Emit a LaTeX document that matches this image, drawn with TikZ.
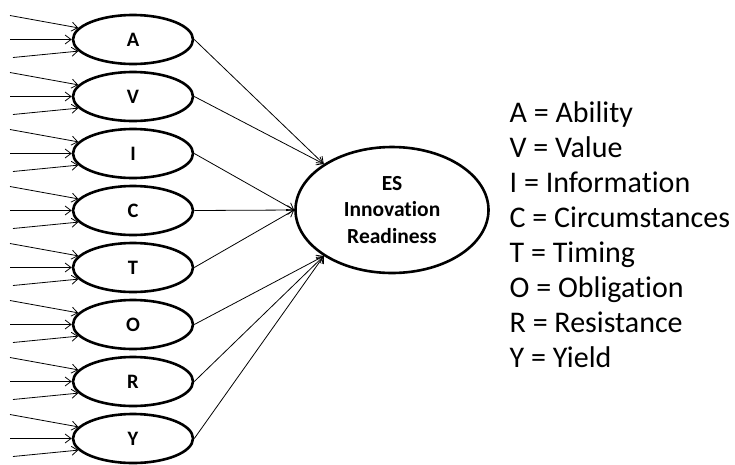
\documentclass[tikz,border=0pt]{standalone}
\usepackage{fontspec}
\setmainfont{Carlito}[Ligatures={NoCommon}]
\usetikzlibrary{arrows.meta,shapes.geometric}
\begin{document}
\begin{tikzpicture}[x=1pt,y=-1pt,
  conn/.style={line width=0.8pt,-{Straight Barb[length=6pt,width=9pt]}},
  smallell/.style={ellipse,draw,line width=2.6pt,minimum width=120pt,minimum height=49pt,inner sep=0pt,
    font=\fontsize{20.5}{25}\selectfont\bfseries},
  bigell/.style={ellipse,draw,line width=2.6pt,minimum width=193pt,minimum height=126pt,inner sep=0pt,
    align=center,font=\fontsize{21.5}{26.5}\selectfont\bfseries},
  legendtxt/.style={anchor=base west,inner sep=0pt,font=\fontsize{30}{35}\selectfont}]
\useasboundingbox (0,0) rectangle (735,464);
\node[bigell] (es) at (392,210) {ES\\Innovation\\Readiness};
\foreach \n/\l/\ang [count=\k from 0] in {a/A/146,v/V/146,i/I/180,c/C/180,t/T/180,o/O/214,r/R/214,y/Y/214} {
  \pgfmathsetmacro\cy{39.5+57*\k}
  \node[smallell] (\n) at (133,\cy) {\l};
  \coordinate (\n-s1) at (10,\cy-24);
  \coordinate (\n-s2) at (10,\cy);
  \coordinate (\n-s3) at (13,\cy+18);
  \draw[conn] (\n-s1) -- (\n.168);
  \draw[conn] (\n-s2) -- (\n.west);
  \draw[conn] (\n-s3) -- (\n.192);
  \draw[conn] (\n.east) -- (es.\ang);
}
\foreach \txt [count=\k from 0] in {A = Ability,V = Value,I = Information,C = Circumstances,T = Timing,O = Obligation,R = Resistance,Y = Yield} {
  \node[legendtxt] (leg\k) at (509.5,122+35*\k) {\txt};
}
\end{tikzpicture}
\end{document}
